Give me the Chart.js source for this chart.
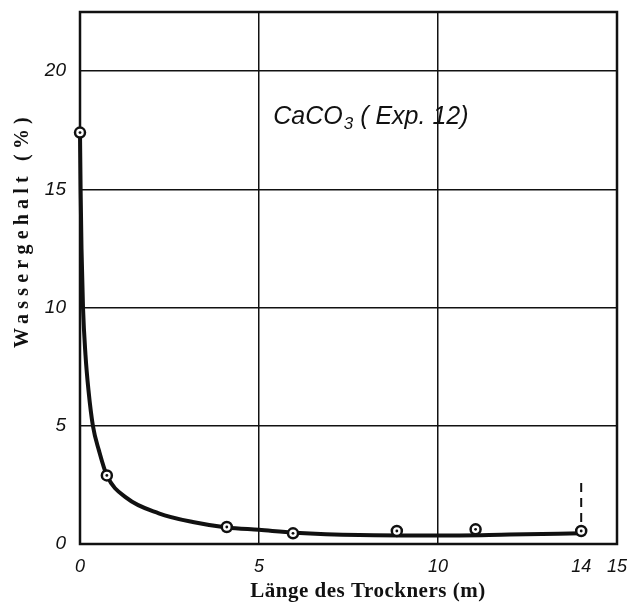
<!DOCTYPE html>
<html>
<head>
<meta charset="utf-8">
<script src="https://cdn.jsdelivr.net/npm/chart.js@4/dist/chart.umd.min.js"></script>
<style>
  html, body { margin: 0; padding: 0; background: #fff; }
  #wrap { width: 632px; height: 609px; }
</style>
</head>
<body>
<div id="wrap"><canvas id="c" width="632" height="609"></canvas></div>
<script>
// Measured water content along the dryer (CaCO3, Exp. 12)
const measX = [0, 0.75, 4.1, 5.95, 8.85, 11.05, 14];
const measY = [17.4, 2.9, 0.72, 0.45, 0.55, 0.62, 0.55];

// Hand-drawn smooth curve through the measurements
const curveX = [0, 0.017, 0.042, 0.084, 0.153, 0.237, 0.36, 0.53, 0.75, 1.3, 2.2, 3.15, 4.1, 5.0, 6.0, 7.8, 10, 12, 14];
const curveY = [17.4, 15, 12.5, 10, 8, 6.5, 5.0, 3.95, 2.9, 1.95, 1.3, 0.93, 0.7, 0.6, 0.48, 0.38, 0.36, 0.4, 0.45];

// Dashed marker at the dryer end
const endMarkX = [14, 14];
const endMarkY = [0.3, 2.7];

// Axis ticks and labels
const xTickValues = [0, 5, 10, 14, 15];
const xTickLabels = ['0', '5', '10', '14', '15'];
const yTickValues = [0, 5, 10, 15, 20];
const yTickLabels = ['0', '5', '10', '15', '20'];

const xTitle = 'Länge des Trockners (m)';
const yTitle = 'Wassergehalt (%)';
const noteMain = 'CaCO';
const noteSub = '3';
const noteTail = ' ( Exp. 12)';
const notePos = { x: 5.4, y: 17.75 };

const pts = (xs, ys) => xs.map((x, i) => ({ x, y: ys[i] }));
const INK = '#111';

const framePlugin = {
  id: 'frame',
  beforeDatasetsDraw(chart) {
    const a = chart.chartArea, ctx = chart.ctx;
    ctx.save();
    ctx.strokeStyle = INK;
    ctx.lineWidth = 2.5;
    ctx.strokeRect(a.left, a.top, a.right - a.left, a.bottom - a.top);
    ctx.restore();
  },
  afterDraw(chart) {
    const ctx = chart.ctx;
    const xs = chart.scales.x, ys = chart.scales.y;
    ctx.save();
    ctx.fillStyle = INK;

    // axis titles
    ctx.font = 'bold 21px "Liberation Serif"';
    ctx.textAlign = 'center';
    ctx.textBaseline = 'alphabetic';
    ctx.letterSpacing = '0.5px';
    ctx.fillText(xTitle, 368, 597);

    ctx.save();
    ctx.translate(28, 230);
    ctx.rotate(-Math.PI / 2);
    ctx.font = '600 20px "Liberation Serif"';
    ctx.letterSpacing = '5.2px';
    ctx.fillText(yTitle, 0, 0);
    ctx.restore();

    // in-plot note
    ctx.letterSpacing = '0px';
    ctx.textAlign = 'left';
    let px = xs.getPixelForValue(notePos.x);
    const py = ys.getPixelForValue(notePos.y);
    ctx.font = 'italic 25px "Liberation Sans"';
    ctx.fillText(noteMain, px, py);
    px += ctx.measureText(noteMain).width + 1;
    ctx.font = 'italic 17px "Liberation Sans"';
    ctx.fillText(noteSub, px, py + 5);
    px += ctx.measureText(noteSub).width;
    ctx.font = 'italic 25px "Liberation Sans"';
    ctx.fillText(noteTail, px, py);
    ctx.restore();
  }
};

new Chart(document.getElementById('c'), {
  type: 'scatter',
  data: {
    datasets: [
      {
        data: pts(measX, measY),
        pointRadius: 1.4,
        pointBackgroundColor: INK,
        pointBorderWidth: 0,
        showLine: false,
        order: 0
      },
      {
        data: pts(measX, measY),
        pointRadius: 5,
        pointBackgroundColor: '#fff',
        pointBorderColor: INK,
        pointBorderWidth: 2.5,
        showLine: false,
        order: 1
      },
      {
        data: pts(curveX, curveY),
        showLine: true,
        borderColor: INK,
        borderWidth: 4,
        cubicInterpolationMode: 'monotone',
        pointRadius: 0,
        order: 2
      },
      {
        data: pts(endMarkX, endMarkY),
        showLine: true,
        borderColor: INK,
        borderWidth: 2,
        borderDash: [9, 6],
        pointRadius: 0,
        order: 3
      }
    ]
  },
  options: {
    responsive: false,
    animation: false,
    clip: false,
    layout: { padding: { top: 12, right: 15, left: 0, bottom: 0 } },
    plugins: { legend: { display: false }, tooltip: { enabled: false } },
    scales: {
      x: {
        type: 'linear',
        min: 0,
        max: 15,
        afterBuildTicks: s => { s.ticks = xTickValues.map(v => ({ value: v })); },
        afterFit: s => { s.height = 65; s.paddingLeft = 0; s.paddingRight = 0; },
        border: { display: false },
        grid: {
          drawTicks: false,
          lineWidth: 1.5,
          color: c => (c.tick && (c.tick.value === 5 || c.tick.value === 10)) ? INK : 'rgba(0,0,0,0)'
        },
        ticks: {
          color: INK,
          padding: 12,
          maxRotation: 0,
          autoSkip: false,
          font: { family: 'Liberation Sans', size: 18, style: 'italic' },
          callback: v => xTickLabels[xTickValues.indexOf(v)]
        }
      },
      y: {
        type: 'linear',
        min: 0,
        max: 22.5,
        afterBuildTicks: s => { s.ticks = yTickValues.map(v => ({ value: v })); },
        afterFit: s => { s.width = 80; s.paddingTop = 0; s.paddingBottom = 0; },
        border: { display: false },
        grid: {
          drawTicks: false,
          lineWidth: 1.5,
          color: c => (c.tick && c.tick.value > 0) ? INK : 'rgba(0,0,0,0)'
        },
        ticks: {
          color: INK,
          padding: 14,
          autoSkip: false,
          font: { family: 'Liberation Sans', size: 19, style: 'italic' },
          callback: v => yTickLabels[yTickValues.indexOf(v)]
        }
      }
    }
  },
  plugins: [framePlugin]
});
</script>
</body>
</html>
